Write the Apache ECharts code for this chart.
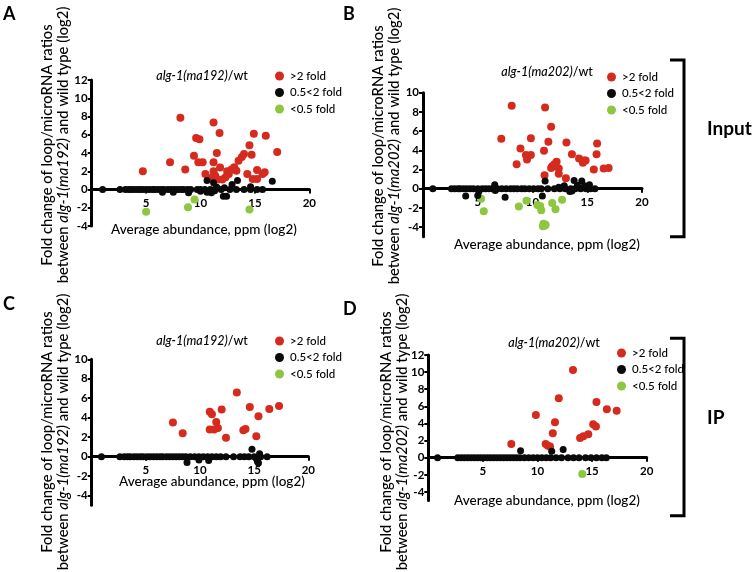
<!DOCTYPE html>
<html>
<head>
<meta charset="utf-8">
<script src="https://cdn.jsdelivr.net/npm/echarts@6/dist/echarts.min.js"></script>
<style>html,body{margin:0;padding:0;background:#fff}#c{width:756px;height:572px}</style>
</head>
<body>
<div id="c"></div>
<script>
// ---------- data ----------
const seriesNames = ['>2 fold', '0.5<2 fold', '<0.5 fold'];
const xTickValues = [5, 10, 15, 20];
const yTicksA = [-4, -2, 0, 2, 4, 6, 8, 10, 12];
const yTicksB = [-4, -2, 0, 2, 4, 6, 8, 10];
const yTicksC = [-4, -2, 0, 2, 4, 6, 8, 10];
const yTicksD = [-4, -2, 0, 2, 4, 6, 8, 10, 12];

// Panel A: alg-1(ma192)/wt, Input
const aUp = [[4.7,2.0],[7.2,3.0],[8.15,7.85],[8.6,2.2],[9.6,5.65],[9.9,5.5],[9.8,3.0],[10.2,3.0],[10.45,1.7],[11.2,7.35],[11.75,6.2],[11.5,4.0],[11.2,3.0],[11.2,2.0],[11.35,1.5],[11.8,2.4],[11.6,1.1],[10.95,1.25],[12.3,1.35],[12.6,1.7],[12.85,2.2],[13.1,2.45],[13.3,2.05],[13.5,3.15],[13.8,3.55],[14.0,3.9],[14.5,4.85],[14.9,6.1],[14.7,3.8],[14.3,1.7],[15.2,2.15],[14.8,1.15],[15.2,1.15],[15.7,1.7],[15.9,1.9],[16.0,5.9],[17.05,4.1],[12.0,1.1],[12.45,2.0],[9.4,3.7]];
const aMid = [[1.0,0],[2.6,0],[3.1,0],[3.4,0],[3.65,0],[3.9,0],[4.2,0],[4.45,0],[4.7,0],[5.0,0],[5.3,0],[5.6,0],[5.8,0],[6.1,0],[6.4,0],[6.65,0],[7.0,0],[7.3,0],[7.6,0],[7.9,0],[8.2,0],[8.45,0],[8.8,0],[9.1,0],[9.7,0],[10.0,0],[10.4,0],[10.9,0],[11.3,0],[11.9,0],[12.7,0],[13.3,0],[14.0,0],[14.6,0],[15.2,0],[15.7,0],
  [10.6,1.0],[11.2,0.75],[13.4,1.0],[16.6,0.9],[12.9,0.55],[12.1,-0.75],[12.4,-0.75],[10.0,-0.2],[6.5,-0.3],[7.5,-0.3],[8.9,-0.35],[10.6,-0.3],[11.0,-0.35],[11.5,0.25],[14.6,0.3],[11.3,-0.15],[12.2,0.2]];
const aDown = [[5.0,-2.45],[8.85,-1.95],[9.45,-1.1],[14.5,-2.2]];

// Panel B: alg-1(ma202)/wt, Input
const bUp = [[8.1,8.65],[11.15,8.45],[11.7,6.45],[7.15,5.2],[9.85,5.25],[11.45,4.9],[8.9,4.2],[9.4,3.5],[9.85,3.5],[9.5,3.05],[11.05,3.95],[13.1,4.8],[13.6,3.6],[14.25,3.15],[14.7,2.95],[14.85,2.95],[14.6,2.7],[15.9,4.7],[15.85,3.6],[15.6,2.0],[16.5,2.1],[16.95,2.15],[8.55,2.55],[12.2,2.8],[11.8,2.35],[11.7,2.15],[12.4,2.1],[12.4,1.55],[13.05,1.1],[11.1,1.4],[12.0,2.55]];
const bMid = [[0.9,0],[2.6,0],[2.9,0],[3.2,0],[3.4,0],[3.7,0],[4.0,0],[4.3,0],[4.6,0],[5.0,0],[5.4,0],[5.7,0],[6.0,0],[6.3,0],[6.6,0],[6.8,0],[7.2,0],[7.6,0],[8.0,0],[8.3,0],[8.6,0],[9.0,0],[9.3,0],[9.7,0],[10.1,0],[10.5,0],[10.8,0],[11.4,0],[12.0,0],[12.5,0],[13.0,0],[13.5,0],[13.9,0],[14.4,0],[14.9,0],[15.3,0],[15.7,0],
  [3.9,-0.75],[5.0,-0.7],[7.5,-0.9],[10.9,-0.75],[11.15,0.8],[6.55,0.4],[6.6,-0.2],[12.9,0.3],[13.8,0.85],[14.5,0.8],[14.1,0.35],[14.75,0.3],[15.2,0.4],[13.4,-0.3],[13.6,-0.25],[5.1,-0.3],[12.4,0.15]];
const bDown = [[5.3,-1.05],[5.55,-2.35],[8.75,-1.85],[9.45,-1.25],[10.45,-1.7],[10.7,-1.8],[10.8,-2.25],[11.8,-1.5],[12.1,-2.15],[12.7,-1.15],[11.0,-3.65],[11.1,-3.85],[11.2,-3.75],[10.95,-3.9]];

// Panel C: alg-1(ma192)/wt, IP
const cUp = [[7.5,3.5],[8.4,2.4],[10.9,4.6],[11.1,4.35],[10.9,2.8],[11.3,2.8],[11.5,3.55],[11.65,2.95],[12.0,4.85],[12.4,1.95],[13.4,6.6],[14.0,2.7],[14.2,2.85],[14.6,5.1],[15.2,2.1],[15.4,4.15],[16.4,4.9],[17.3,5.2]];
const cMid = [[0.9,0],[2.6,0],[3.0,0],[3.3,0],[3.55,0],[3.9,0],[4.2,0],[4.5,0],[4.75,0],[5.1,0],[5.4,0],[5.7,0],[6.0,0],[6.3,0],[6.55,0],[6.9,0],[7.2,0],[7.5,0],[7.8,0],[8.1,0],[8.4,0],[8.7,0],[9.1,0],[9.5,0],[9.9,0],[10.3,0],[10.7,0],[11.1,0],[11.5,0],[11.9,0],[12.4,0],[13.1,0],[13.7,0],[14.1,0],[14.5,0],[15.0,0],[15.6,0],[16.2,0],
  [14.8,0.75],[15.5,0.3],[8.8,-0.6],[9.9,-0.35],[10.8,-0.4],[15.3,-0.5],[15.4,-0.65]];
const cDown = [];

// Panel D: alg-1(ma202)/wt, IP
const dUp = [[13.25,10.25],[11.95,6.95],[9.85,5.0],[15.4,6.5],[16.35,5.65],[17.25,5.5],[11.6,4.15],[11.4,2.85],[15.1,3.9],[15.35,3.65],[14.65,2.75],[13.9,2.3],[14.2,2.5],[7.6,1.6],[10.75,1.6],[10.95,1.4],[11.15,1.3]];
const dMid = [[0.85,0],[2.7,0],[3.0,0],[3.3,0],[3.6,0],[3.9,0],[4.2,0],[4.5,0],[4.8,0],[5.1,0],[5.4,0],[5.7,0],[6.0,0],[6.3,0],[6.6,0],[6.9,0],[7.2,0],[7.5,0],[7.8,0],[8.1,0],[8.4,0],[8.8,0],[9.2,0],[9.6,0],[10.0,0],[10.4,0],[10.8,0],[11.2,0],[11.7,0],[12.2,0],[12.8,0],[13.3,0],[13.8,0],[14.4,0],[14.9,0],[15.4,0],[15.9,0],[16.3,0],
  [8.45,0.8],[11.3,0.75],[12.35,0.95]];
const dDown = [[14.1,-1.9]];

// ---------- layout / style ----------
const FONT = 'Lato';
const COLORS = ['#d52b1e', '#0a0a0a', '#8dc63f'];
const panels = [
  {grid:{left:91.7, top:80, width:217.6, height:146}, ymin:-4, ymax:12, yTicks:yTicksA, data:[aUp,aMid,aDown],
   title:'alg-1(ma192)', tx:202, ty:69, legend:{left:275, top:70}},
  {grid:{left:423, top:92.7, width:219, height:144}, ymin:-5, ymax:10, yTicks:yTicksB, data:[bUp,bMid,bDown],
   title:'alg-1(ma202)', tx:547, ty:65, legend:{left:607, top:71}},
  {grid:{left:91.7, top:359.3, width:216.6, height:146}, ymin:-5, ymax:10, yTicks:yTicksC, data:[cUp,cMid,cDown],
   title:'alg-1(ma192)', tx:202, ty:334, legend:{left:275, top:335}},
  {grid:{left:428.3, top:355, width:218.4, height:145.5}, ymin:-5, ymax:12, yTicks:yTicksD, data:[dUp,dMid,dDown],
   title:'alg-1(ma202)', tx:554, ty:336, legend:{left:617, top:347}}
];
const xTitles = [[204,230],[547,245],[212,482],[547,501]];
const yTitles = [[55,145,'alg-1(ma192)'],[386,146,'alg-1(ma202)'],[55,432,'alg-1(ma192)'],[394,432,'alg-1(ma202)']];

const option = {
  animation:false,
  backgroundColor:'#fff',
  grid: panels.map(p => Object.assign({containLabel:false}, p.grid)),
  xAxis: panels.map((p,i) => ({
    gridIndex:i, type:'value', min:0, max:20, position:'bottom',
    // move the whole axis (line, ticks, labels) up to y = 0
    offset: -p.grid.height * (0 - p.ymin) / (p.ymax - p.ymin),
    axisLine:{show:true, onZero:false, lineStyle:{color:'#000', width:3}},
    axisTick:{show:true, length:4, customValues:xTickValues, lineStyle:{color:'#000', width:2}},
    axisLabel:{customValues:xTickValues, fontFamily:FONT, fontWeight:'bold', fontSize:11.5, color:'#000', margin:8},
    splitLine:{show:false}
  })),
  yAxis: panels.map((p,i) => ({
    gridIndex:i, type:'value', min:p.ymin, max:p.ymax,
    axisLine:{show:true, onZero:false, lineStyle:{color:'#000', width:3}},
    axisTick:{show:true, length:4, customValues:p.yTicks, lineStyle:{color:'#000', width:2}},
    axisLabel:{customValues:p.yTicks, fontFamily:FONT, fontWeight:'bold', fontSize:11.5, color:'#000', margin:4},
    splitLine:{show:false}
  })),
  title: panels.map(p => ({
    text:'{i|' + p.title + '}/wt', left:p.tx, top:p.ty, textAlign:'center', padding:0,
    textStyle:{fontFamily:FONT, fontSize:12.5, fontWeight:500, color:'#000',
      rich:{i:{fontFamily:FONT, fontSize:12.5, fontWeight:500, fontStyle:'italic', color:'#000'}}}
  })),
  legend: panels.map(p => ({
    data:seriesNames, orient:'vertical', left:p.legend.left, top:p.legend.top, padding:0,
    itemGap:4.5, icon:'circle', itemWidth:9, itemHeight:9, selectedMode:false,
    textStyle:{fontFamily:FONT, fontSize:11.5, fontWeight:500, color:'#000', padding:[0,0,0,1]}
  })),
  series: [],
  graphic: []
};

panels.forEach((p,i) => {
  p.data.forEach((d,k) => {
    option.series.push({
      type:'scatter', name:seriesNames[k], xAxisIndex:i, yAxisIndex:i, data:d,
      symbol:'circle', symbolSize: k === 1 ? 7 : 8,
      itemStyle:{color:COLORS[k], opacity:1}, z: k === 1 ? 3 : 2
    });
  });
});

const g = option.graphic;
xTitles.forEach(([x,y]) => g.push({type:'text', x:x, y:y, silent:true,
  style:{text:'Average abundance, ppm (log2)', fontFamily:FONT, fontSize:13.5, fontWeight:500, fill:'#000',
    align:'center', verticalAlign:'middle', textAlign:'center', textVerticalAlign:'middle'}}));
yTitles.forEach(([x,y,geno]) => g.push({type:'text', x:x, y:y, rotation:Math.PI/2, silent:true,
  style:{text:'Fold change of loop/microRNA ratios\nbetween {i|' + geno + '} and wild type (log2)',
    fontFamily:FONT, fontSize:14.8, fontWeight:500, fill:'#000', lineHeight:16.5,
    rich:{i:{fontFamily:FONT, fontSize:14.8, fontWeight:500, fontStyle:'italic', fill:'#000', lineHeight:16.5}},
    align:'center', verticalAlign:'middle', textAlign:'center', textVerticalAlign:'middle'}}));
[['A',3,14],['B',343,14],['C',3,304],['D',343,309]].forEach(([t,x,y]) => g.push({type:'text', x:x, y:y, silent:true,
  style:{text:t, fontFamily:FONT, fontSize:18, fontWeight:'bold', fill:'#000',
    align:'left', verticalAlign:'middle', textAlign:'left', textVerticalAlign:'middle'}}));
[[60,236.7,'Input',129.3],[338.3,515.7,'IP',418.3]].forEach(([t0,t1,label,ly]) => {
  g.push({type:'polyline', silent:true, shape:{points:[[670,t0],[684,t0],[684,t1],[670,t1]]},
    style:{stroke:'#000', lineWidth:3, fill:null}});
  g.push({type:'text', x:707, y:ly, silent:true,
    style:{text:label, fontFamily:FONT, fontSize:19, fontWeight:'bold', fill:'#000',
      align:'left', verticalAlign:'middle', textAlign:'left', textVerticalAlign:'middle'}});
});

const chart = echarts.init(document.getElementById('c'), null, {renderer:'canvas'});
chart.setOption(option);
</script>
</body>
</html>
